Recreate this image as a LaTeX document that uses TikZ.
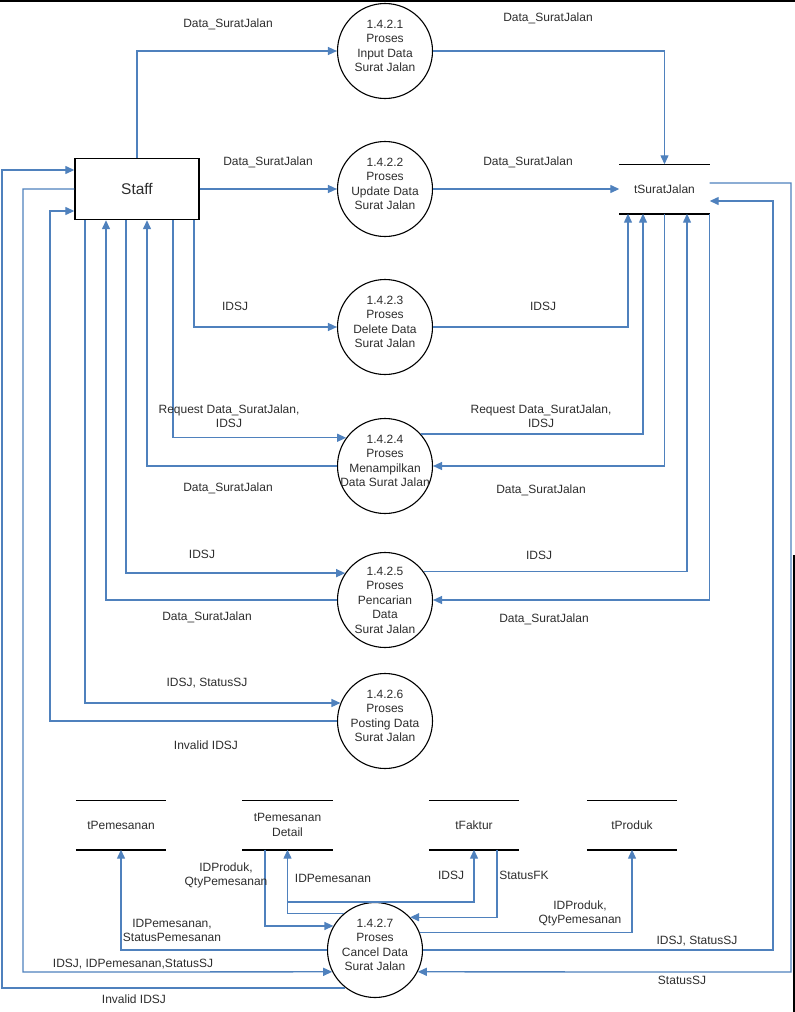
\documentclass[tikz,border=0pt]{standalone}
\usepackage{fontspec}
\setmainfont{Liberation Sans}
\usepackage{xcolor}
\usepackage{tikz}
\usetikzlibrary{arrows.meta}

\definecolor{flowblue}{RGB}{79,129,189}
\definecolor{txtgray}{RGB}{45,45,45}

\tikzset{
  proses/.style={draw, circle, minimum size=95pt, inner sep=0pt, line width=1.1pt},
  every label/.style={align=center, font=\fontsize{12}{14.5}\selectfont, text=txtgray, inner sep=0pt},
  entitas/.style={draw, rectangle, minimum width=124pt, minimum height=61pt, line width=1.4pt, font=\fontsize{15.5}{18}\selectfont, text=txtgray},
  simpan/.style={rectangle, minimum width=90pt, minimum height=49pt, align=center, font=\fontsize{12}{14.5}\selectfont, text=txtgray},
  garis/.style={line width=1.6pt},
  alir/.style={draw=flowblue, line width=1.3pt, -{Triangle[length=9pt,width=8pt]}},
  ket/.style={align=center, font=\fontsize{12}{14}\selectfont, text=txtgray, inner sep=0pt}
}

\begin{document}
\begin{tikzpicture}[x=1pt, y=-1pt]
\useasboundingbox (0,0) rectangle (795,1012);

% Entitas Staff
\node[entitas] (staff) at (137,189) {Staff};

% Data store
\node[simpan] (tsj) at (664.5,189) {tSuratJalan};
\node[simpan] (tpm) at (121,825) {tPemesanan};
\node[simpan] (tpd) at (287.5,825) {tPemesanan\\Detail};
\node[simpan] (tfk) at (474,825) {tFaktur};
\node[simpan] (tpr) at (632,825) {tProduk};
\draw[garis] (tsj.north west) -- (tsj.north east);
\draw[garis] (tsj.south west) -- (tsj.south east);
\draw[garis] (tpm.north west) -- (tpm.north east);
\draw[garis] (tpm.south west) -- (tpm.south east);
\draw[garis] (tpd.north west) -- (tpd.north east);
\draw[garis] (tpd.south west) -- (tpd.south east);
\draw[garis] (tfk.north west) -- (tfk.north east);
\draw[garis] (tfk.south west) -- (tfk.south east);
\draw[garis] (tpr.north west) -- (tpr.north east);
\draw[garis] (tpr.south west) -- (tpr.south east);

% Proses
\node[proses, label={[name=n1, yshift=5pt]center:1.4.2.1\\Proses\\Input Data\\Surat Jalan}] (p1) at (385,51) {};
\node[proses, label={[name=n2, yshift=5pt]center:1.4.2.2\\Proses\\Update Data\\Surat Jalan}] (p2) at (385,189) {};
\node[proses, label={[name=n3, yshift=5pt]center:1.4.2.3\\Proses\\Delete Data\\Surat Jalan}] (p3) at (385,327) {};
\node[proses, label={[name=n4, yshift=5pt]center:1.4.2.4\\Proses\\Menampilkan\\Data Surat Jalan}] (p4) at (385,466) {};
\node[proses, label={[name=n5]center:1.4.2.5\\Proses\\Pencarian\\Data\\Surat Jalan}] (p5) at (385,600) {};
\node[proses, label={[name=n6, yshift=5pt]center:1.4.2.6\\Proses\\Posting Data\\Surat Jalan}] (p6) at (385,721) {};
\node[proses, label={[name=n7, yshift=5pt]center:1.4.2.7\\Proses\\Cancel Data\\Surat Jalan}] (p7) at (375,950) {};

% Staff - tSuratJalan lewat 1.4.2.1 dan 1.4.2.2
\draw[alir] (staff) |- (p1);
\draw[alir] (p1) -| (tsj);
\draw[alir] (staff) -- (p2);
\draw[alir] (p2) -- (tsj);

% tSuratJalan - 1.4.2.7
\draw[alir] ([yshift=6pt]tsj.east) -| (791,972) -- (p7.-27);
\draw[alir] (p7.east) -| (773,201) -- ([yshift=-12pt]tsj.east);

% Staff - 1.4.2.7
\draw[alir] (p7.232) -| (2,170) -- ([yshift=19pt]staff.west);
\draw[alir] (staff.west) -| (23,972) -- (p7.207);

% Staff - 1.4.2.3 s/d 1.4.2.6
\draw[alir] (p6.west) -| (50,211) -- ([yshift=-22pt]staff.west);
\draw[alir] ([xshift=-52pt]staff.south) |- (p6.158);
\draw[alir] (p5.west) -| ([xshift=-31pt]staff.south);
\draw[alir] ([xshift=-11pt]staff.south) |- (p5.146);
\draw[alir] (p4.west) -| ([xshift=10pt]staff.south);
\draw[alir] ([xshift=36pt]staff.south) |- (p4.144);
\draw[alir] ([xshift=57pt]staff.south) |- (p3.west);

% 1.4.2.3 s/d 1.4.2.5 - tSuratJalan
\draw[alir] (p3.east) -| ([xshift=-36.5pt]tsj.south);
\draw[alir] (p4.42) -| ([xshift=-21.5pt]tsj.south);
\draw[alir] (tsj.south) |- (p4.east);
\draw[alir] (p5.36) -| ([xshift=22.5pt]tsj.south);
\draw[alir] (tsj.south east) |- (p5.east);

% 1.4.2.7 - tabel lain
\draw[alir] (p7.west) -| (tpm.south);
\draw[alir] ([xshift=-22.5pt]tpd.south) |- (p7.150);
\draw[alir] (p7.130) -| (tpd.south);
\draw[alir] (tpd.south |- p7.north) -| (tfk.south);
\draw[alir] ([xshift=23pt]tfk.south) |- (p7.43);
\draw[alir] (p7.21) -| (tpr.south);

% Keterangan alir
\node[ket] (k1) at (228,24) {Data\_SuratJalan};
\node[ket] (k2) at (548,18) {Data\_SuratJalan};
\node[ket] (k3) at (268,162) {Data\_SuratJalan};
\node[ket] (k4) at (528,162) {Data\_SuratJalan};
\node[ket] (k5) at (235,306) {IDSJ};
\node[ket] (k6) at (543,306) {IDSJ};
\node[ket] (k7) at (229,416) {Request Data\_SuratJalan,\\IDSJ};
\node[ket] (k8) at (541,416) {Request Data\_SuratJalan,\\IDSJ};
\node[ket] (k9) at (228,488) {Data\_SuratJalan};
\node[ket] (k10) at (541,490) {Data\_SuratJalan};
\node[ket] (k11) at (202,554) {IDSJ};
\node[ket] (k12) at (539,555) {IDSJ};
\node[ket] (k13) at (207,617) {Data\_SuratJalan};
\node[ket] (k14) at (544,619) {Data\_SuratJalan};
\node[ket] (k15) at (207,683) {IDSJ, StatusSJ};
\node[ket] (k16) at (206,745) {Invalid IDSJ};
\node[ket] (k17) at (172,930) {IDPemesanan,\\StatusPemesanan};
\node[ket] (k18) at (226,875) {IDProduk,\\QtyPemesanan};
\node[ket] (k19) at (333,878) {IDPemesanan};
\node[ket] (k20) at (451,875) {IDSJ};
\node[ket] (k21) at (524,875) {StatusFK};
\node[ket] (k22) at (580,913) {IDProduk,\\QtyPemesanan};
\node[ket] (k23) at (697,941) {IDSJ, StatusSJ};
\node[ket] (k24) at (682,980) {StatusSJ};
\node[ket] (k25) at (133,964) {IDSJ, IDPemesanan,StatusSJ};
\node[ket] (k26) at (134,999) {Invalid IDSJ};

% Tepi halaman
\draw[line width=1.6pt] (0,1) -- (795,1);
\draw[line width=1.2pt] (794,555) -- (794,1012);
\end{tikzpicture}
\end{document}
